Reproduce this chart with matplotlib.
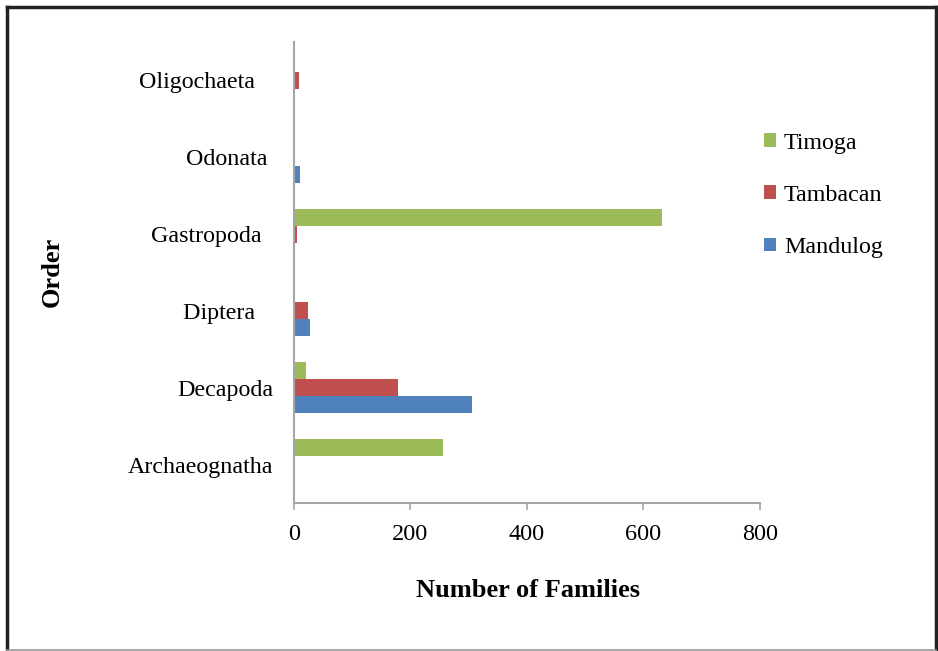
import numpy as np
import matplotlib.pyplot as plt
from matplotlib.lines import Line2D

# family counts per order at each site
orders = ['Archaeognatha', 'Decapoda', 'Diptera   ', 'Gastropoda  ', 'Odonata ', 'Oligochaeta   ']
mandulog = [0, 306, 27, 0, 10, 0]
tambacan = [0, 178, 24, 6, 2, 8]
timoga = [255, 21, 0, 631, 0, 0]

plt.rcParams['font.family'] = ['Liberation Serif', 'DejaVu Serif']

fig = plt.figure(figsize=(9.38, 6.51), dpi=100)
ax = fig.add_axes([0.3134, 0.2273, 0.4968, 0.7082])

y = np.arange(len(orders))
h = 0.22
ax.barh(y - h, mandulog, height=h, color='#4F81BD', label='Mandulog')
ax.barh(y, tambacan, height=h, color='#C0504D', label='Tambacan')
ax.barh(y + h, timoga, height=h, color='#9BBB59', label='Timoga')

ax.set_xlim(0, 800)
ax.set_ylim(-0.5, len(orders) - 0.5)
ax.set_xticks([0, 200, 400, 600, 800])
ax.set_yticks(y)
ax.set_yticklabels(orders)
ax.tick_params(axis='y', length=0, pad=15, labelsize=17.3)
ax.tick_params(axis='x', length=5, width=1.2, color='#a6a6a6', pad=10, labelsize=17.5)

for s in ['top', 'right']:
    ax.spines[s].set_visible(False)
for s in ['left', 'bottom']:
    ax.spines[s].set_color('#a6a6a6')
    ax.spines[s].set_linewidth(1.5)

fig.text(0.5625, 0.093, 'Number of Families', ha='center', va='center',
         fontsize=19, fontweight='bold')
fig.text(0.056, 0.582, 'Order', ha='center', va='center', rotation=90,
         fontsize=19, fontweight='bold')

handles, labels = ax.get_legend_handles_labels()
fig.legend(handles[::-1], labels[::-1], loc='center left',
           bbox_to_anchor=(0.791, 0.70), frameon=False, fontsize=17.3,
           handlelength=0.5, handleheight=0.5, handletextpad=0.35,
           labelspacing=1.3)

# outer frame
W, H = 938, 651
def px(x0, y0, x1, y1, **kw):
    fig.add_artist(Line2D([x0 / W, x1 / W], [1 - y0 / H, 1 - y1 / H],
                          transform=fig.transFigure, **kw))
px(7, 7, 936, 7, color='#222222', lw=2.5)
px(7, 7, 7, 649.5, color='#222222', lw=2.5)
px(936, 7, 936, 649.5, color='#222222', lw=2.5)
px(7, 649.5, 936, 649.5, color='#999999', lw=1.2)

fig.savefig('out.png', dpi=100)
